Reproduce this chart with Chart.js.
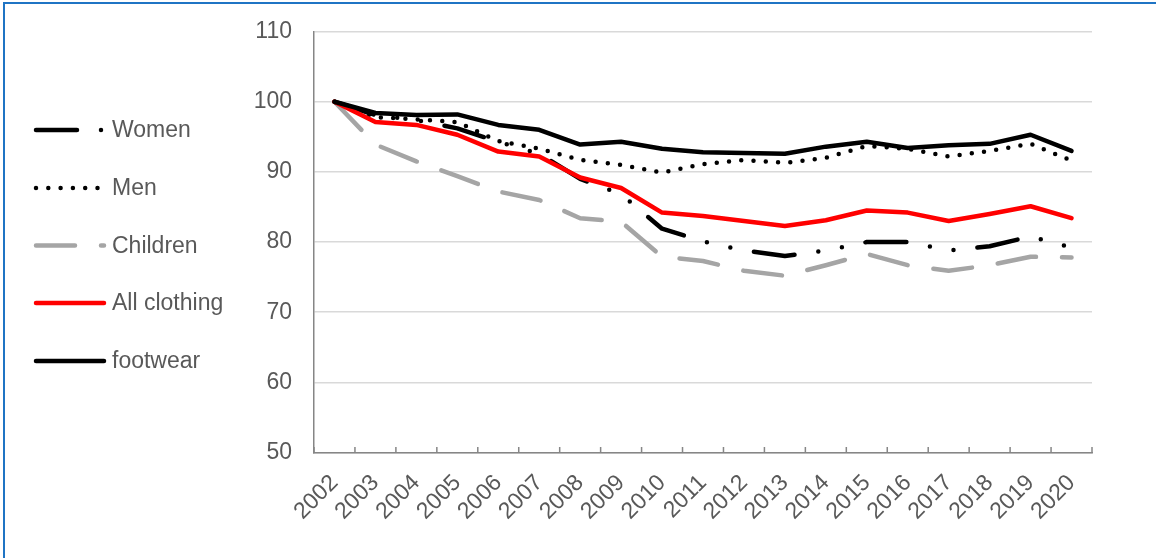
<!DOCTYPE html>
<html>
<head>
<meta charset="utf-8">
<script src="https://cdn.jsdelivr.net/npm/chart.js@4.4.1/dist/chart.umd.min.js"></script>
<style>
  html, body { margin: 0; padding: 0; background: #ffffff; }
  #wrap { position: relative; width: 1156px; height: 558px; overflow: hidden; }
  #frame { position: absolute; left: 3px; top: 2px; width: 1300px; height: 700px;
           border-top: 2px solid #1f74c4; border-left: 2px solid #1f74c4; pointer-events: none; }
  canvas { display: block; }
</style>
</head>
<body>
<div id="wrap">
  <canvas id="chart" width="1156" height="558"></canvas>
  <div id="frame"></div>
</div>
<script>
// Price index by year (2002 = 100)
const years = ['2002','2003','2004','2005','2006','2007','2008','2009','2010','2011',
               '2012','2013','2014','2015','2016','2017','2018','2019','2020'];
const women    = [100, 98.1, 97.4, 96.2, 94.3, 92.6, 89.0, 86.8, 81.9, 80.1, 78.8, 78.0, 78.8, 80.0, 80.0, 78.8, 79.4, 80.8, 79.2];
const men      = [100, 97.8, 97.5, 97.1, 94.4, 93.3, 91.7, 91.0, 89.9, 91.1, 91.7, 91.3, 92.0, 93.7, 93.3, 92.2, 93.0, 94.0, 91.6];
const children = [100, 93.9, 91.5, 89.4, 87.2, 86.0, 83.4, 82.9, 77.9, 77.3, 75.9, 75.2, 76.7, 78.3, 76.7, 75.9, 76.7, 77.9, 77.8];
const allClothing = [100, 97.1, 96.7, 95.3, 92.9, 92.2, 89.2, 87.7, 84.2, 83.7, 83.0, 82.3, 83.1, 84.5, 84.2, 83.0, 84.0, 85.1, 83.4];
const footwear = [100, 98.4, 98.1, 98.2, 96.7, 96.0, 93.9, 94.3, 93.3, 92.8, 92.7, 92.6, 93.6, 94.3, 93.4, 93.8, 94.0, 95.3, 93.0];
const yTicks = { min: 50, max: 110, step: 10 };

const FONT = "'Liberation Sans', Arial, sans-serif";
const TEXT = '#595959';
const AXIS = '#868686';

function series(label, data, color, dash, order) {
  return {
    label, data, order,
    borderColor: color, backgroundColor: color,
    borderWidth: 4.5, borderDash: dash,
    borderCapStyle: 'round', borderJoinStyle: 'round',
    pointRadius: 0, pointHoverRadius: 0, tension: 0, fill: false
  };
}

// Legend drawn at the left edge, one line sample per series
const sideLegend = {
  id: 'sideLegend',
  afterDraw(chart) {
    const ctx = chart.ctx;
    const rows = [130, 188, 245.5, 303, 361];
    chart.data.datasets.forEach((ds, i) => {
      const y = rows[i];
      ctx.save();
      ctx.strokeStyle = ds.borderColor;
      ctx.lineWidth = ds.borderWidth;
      ctx.lineCap = 'round';
      ctx.setLineDash(ds.borderDash || []);
      ctx.beginPath();
      ctx.moveTo(36, y);
      ctx.lineTo(104, y);
      ctx.stroke();
      ctx.setLineDash([]);
      ctx.fillStyle = TEXT;
      ctx.font = '23px ' + FONT;
      ctx.textBaseline = 'middle';
      ctx.textAlign = 'left';
      ctx.fillText(ds.label, 112, y + 1);
      ctx.restore();
    });
  }
};

// Short inward tick marks on the category axis, between categories
const innerTicks = {
  id: 'innerTicks',
  afterDatasetsDraw(chart) {
    const x = chart.scales.x;
    const ctx = chart.ctx;
    const bottom = chart.chartArea.bottom;
    ctx.save();
    ctx.strokeStyle = AXIS;
    ctx.lineWidth = 1.5;
    ctx.beginPath();
    for (let i = 0; i <= years.length; i++) {
      const px = x.getPixelForValue(i - 0.5);
      ctx.moveTo(px, bottom);
      ctx.lineTo(px, bottom - 5.5);
    }
    ctx.stroke();
    ctx.restore();
  }
};

// Fixed axis box sizes so the plot area sits at a known place
function fixSize(w, h) {
  return function (scale) {
    if (w !== null) scale.width = w;
    if (h !== null) scale.height = h;
    scale.paddingTop = 0; scale.paddingBottom = 0;
    scale.paddingLeft = 0; scale.paddingRight = 0;
  };
}

new Chart(document.getElementById('chart'), {
  type: 'line',
  data: {
    labels: years,
    datasets: [
      series('Women', women, '#000000', [41, 24, 0, 24, 0, 24], 3),
      series('Men', men, '#000000', [0, 12.3], 2),
      series('Children', children, '#a5a5a5', [39, 26], 4),
      series('All clothing', allClothing, '#ff0000', [], 1),
      series('footwear', footwear, '#000000', [], 0)
    ]
  },
  options: {
    responsive: false,
    animation: false,
    events: [],
    layout: { padding: { left: 234, right: 64, top: 31.6, bottom: 5.5 } },
    plugins: { legend: { display: false }, tooltip: { enabled: false } },
    scales: {
      x: {
        type: 'category',
        offset: true,
        grid: { display: false, drawTicks: false },
        border: { display: true, color: AXIS, width: 1.5 },
        ticks: {
          color: TEXT, font: { family: FONT, size: 23 },
          minRotation: 45, maxRotation: 45, padding: 17, autoSkip: false
        },
        afterFit: fixSize(null, 100)
      },
      y: {
        min: yTicks.min, max: yTicks.max,
        grid: { color: '#d9d9d9', lineWidth: 1.5, drawTicks: false },
        border: { display: true, color: AXIS, width: 1.5 },
        ticks: {
          stepSize: yTicks.step, color: TEXT, padding: 22,
          font: { family: FONT, size: 23 }
        },
        afterFit: fixSize(80, null)
      }
    }
  },
  plugins: [sideLegend, innerTicks]
});
</script>
</body>
</html>
